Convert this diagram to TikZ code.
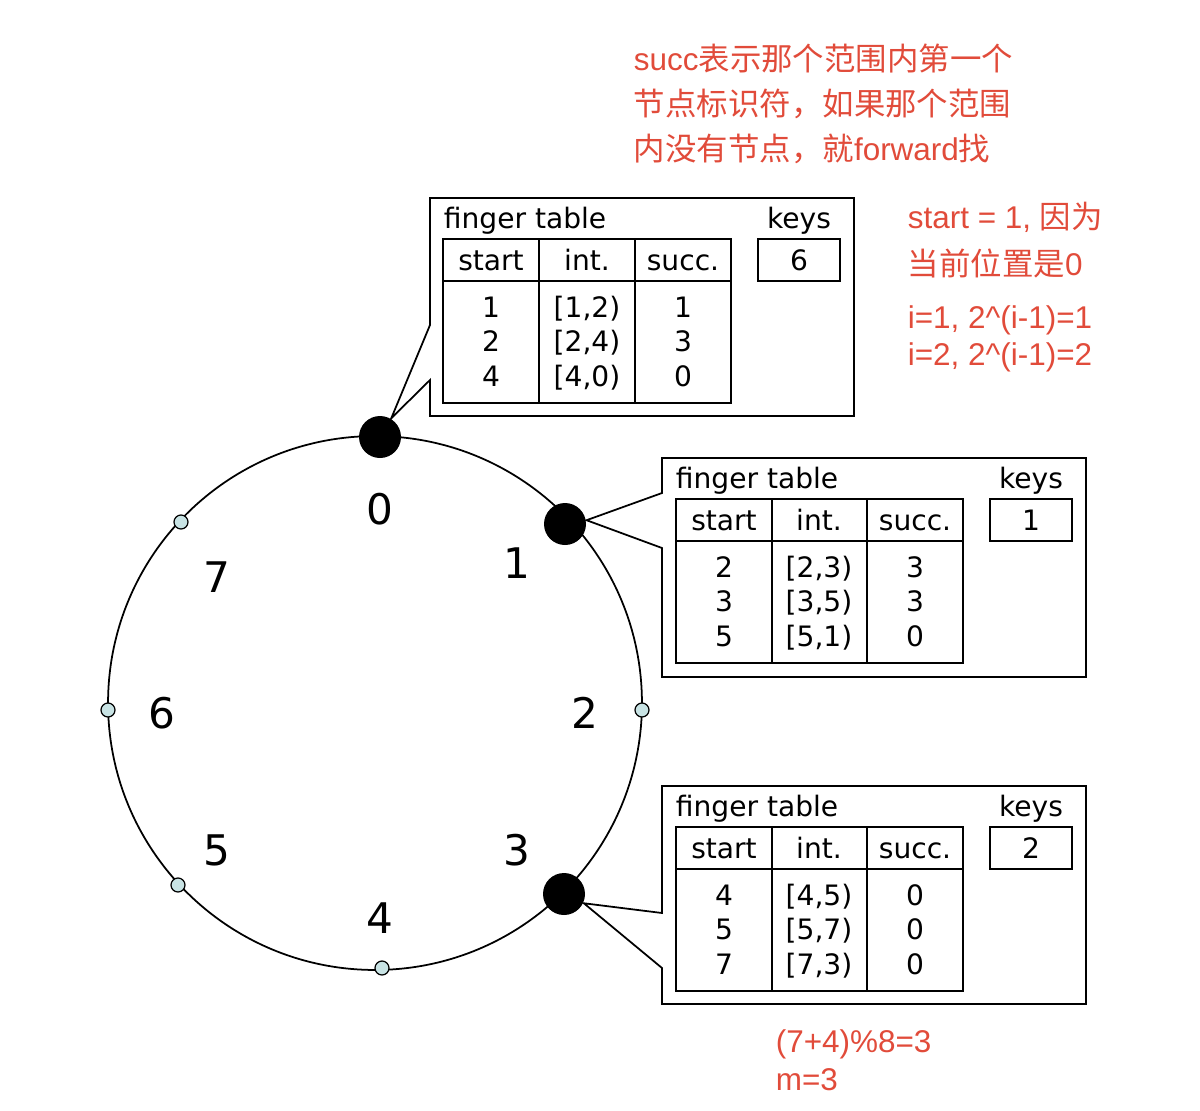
\documentclass[tikz,border=0pt]{standalone}
\usepackage{fontspec}
\setmainfont{DejaVu Sans}
\newfontfamily\cjk{Noto Sans CJK SC}
\newfontfamily\helv{Liberation Sans}
\definecolor{notered}{RGB}{225,75,58}
\definecolor{dotfill}{RGB}{200,227,228}

\begin{document}
\begin{tikzpicture}
            [x=0.02cm, y=-0.02cm, line width=1pt,
             bignode/.style={shape=circle,fill=black,inner sep=0,minimum size=0.84cm},
             smallnode/.style={draw,shape=circle,fill=dotfill,inner sep=0,minimum size=0.28cm,line width=0.7pt},
             idlabel/.style={inner sep=0,font=\fontsize{24}{24}\selectfont},
             cell/.style={inner sep=0,anchor=base,align=center,font=\fontsize{16}{19.6}\selectfont},
             note/.style={inner sep=0,anchor=base west,align=left,text=notered}]

            \useasboundingbox (0,0) rectangle (1200,1110);

            % ring
            \coordinate (c) at (375,703);
            \draw (c) circle [radius=5.34cm];

            \node[bignode] (n0) at (380,437) {};
            \node[bignode] (n1) at (565,524) {};
            \node[smallnode] (n2) at (642,710) {};
            \node[bignode] (n3) at (564,894) {};
            \node[smallnode] (n4) at (382,968) {};
            \node[smallnode] (n5) at (178,885) {};
            \node[smallnode] (n6) at (108,710) {};
            \node[smallnode] (n7) at (181,522) {};

            \node[idlabel] (l0) at (380,509) {0};
            \node[idlabel] (l1) at (517,563) {1};
            \node[idlabel] (l2) at (585,713) {2};
            \node[idlabel] (l3) at (517,850) {3};
            \node[idlabel] (l4) at (380,918) {4};
            \node[idlabel] (l5) at (217,850) {5};
            \node[idlabel] (l6) at (162,713) {6};
            \node[idlabel] (l7) at (217,577) {7};

            % finger table of node 0
            \draw (430,198) -- (854,198) -- (854,416) -- (430,416) -- (430,380) -- (n0.59) -- (430,325) -- cycle;
            \draw (443,239) rectangle (731,403);
            \draw (443,281) -- (731,281);
            \draw (539,239) -- (539,403);
            \draw (635,239) -- (635,403);
            \draw (758,239) rectangle (840,281);
            \node[cell,anchor=base west] (ft0) at (443,228) {finger table};
            \node[cell] (k0) at (799,228) {keys};
            \node[cell] (hs0) at (491,270) {start};
            \node[cell] (hi0) at (587,270) {int.};
            \node[cell] (hc0) at (683,270) {succ.};
            \node[cell] (kv0) at (799,270) {6};
            \node[cell] (cs0) at (491,386) {1\\2\\4};
            \node[cell] (ci0) at (587,386) {{[1,2)}\\{[2,4)}\\{[4,0)}};
            \node[cell] (cc0) at (683,386) {1\\3\\0};

            % finger table of node 1
            \draw (662,458) -- (1086,458) -- (1086,677) -- (662,677) -- (662,548) -- (n1.10) -- (662,493) -- cycle;
            \draw (676,499) rectangle (963,663);
            \draw (676,541) -- (963,541);
            \draw (772,499) -- (772,663);
            \draw (867,499) -- (867,663);
            \draw (990,499) rectangle (1072,541);
            \node[cell,anchor=base west] (ft1) at (675,488) {finger table};
            \node[cell] (k1) at (1031,488) {keys};
            \node[cell] (hs1) at (724,530) {start};
            \node[cell] (hi1) at (819,530) {int.};
            \node[cell] (hc1) at (915,530) {succ.};
            \node[cell] (kv1) at (1031,530) {1};
            \node[cell] (cs1) at (724,646) {2\\3\\5};
            \node[cell] (ci1) at (819,646) {{[2,3)}\\{[3,5)}\\{[5,1)}};
            \node[cell] (cc1) at (915,646) {3\\3\\0};

            % finger table of node 3
            \draw (662,786) -- (1086,786) -- (1086,1004) -- (662,1004) -- (662,968) -- (n3.-25) -- (662,913) -- cycle;
            \draw (676,827) rectangle (963,991);
            \draw (676,869) -- (963,869);
            \draw (772,827) -- (772,991);
            \draw (867,827) -- (867,991);
            \draw (990,827) rectangle (1072,869);
            \node[cell,anchor=base west] (ft3) at (675,816) {finger table};
            \node[cell] (k3) at (1031,816) {keys};
            \node[cell] (hs3) at (724,858) {start};
            \node[cell] (hi3) at (819,858) {int.};
            \node[cell] (hc3) at (915,858) {succ.};
            \node[cell] (kv3) at (1031,858) {2};
            \node[cell] (cs3) at (724,974) {4\\5\\7};
            \node[cell] (ci3) at (819,974) {{[4,5)}\\{[5,7)}\\{[7,3)}};
            \node[cell] (cc3) at (915,974) {0\\0\\0};

            % notes
            \node[note,font=\helv\fontsize{17.9}{25.5}\selectfont] (succnote) at (633,160)
              {succ{\cjk 表示那个范围内第一个}\\{\cjk 节点标识符，如果那个范围}\\{\cjk 内没有节点，就}forward{\cjk 找}};
            \node[note,font=\helv\fontsize{17.9}{26.6}\selectfont] (startnote) at (907,275)
              {start = 1, {\cjk 因为}\\{\cjk 当前位置是}0};
            \node[note,font=\helv\fontsize{17.9}{21}\selectfont] (inote) at (907,365)
              {i=1, 2\textasciicircum(i-1)=1\\i=2, 2\textasciicircum(i-1)=2};
            \node[note,font=\helv\fontsize{17.9}{21.5}\selectfont] (mnote) at (775,1090)
              {(7+4)\%8=3\\m=3};
          \end{tikzpicture}
\end{document}
